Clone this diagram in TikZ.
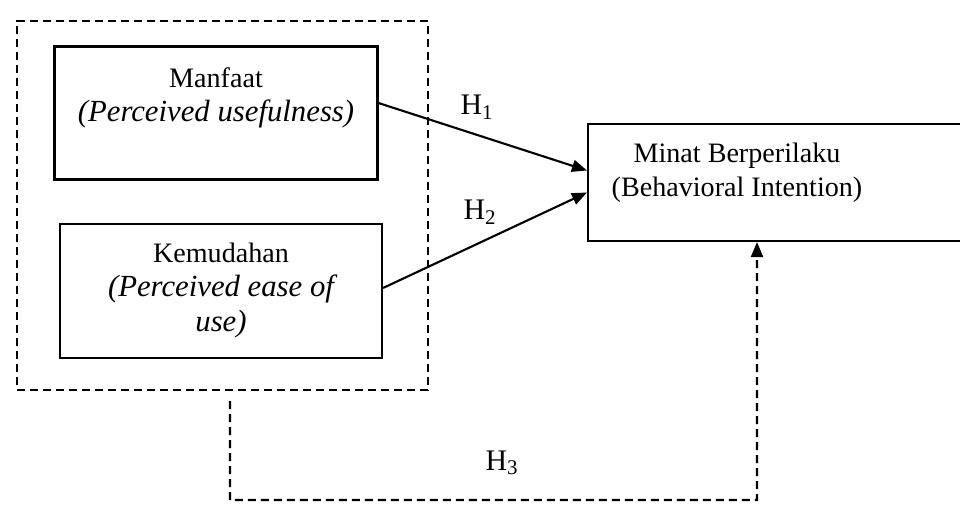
\documentclass[tikz,border=0pt]{standalone}
\usepackage{fontspec}
\setmainfont{Liberation Serif}
\usetikzlibrary{arrows.meta}

\begin{document}
\begin{tikzpicture}[x=0.02cm, y=-0.02cm,
        box/.style={draw, line width=1.2pt, rectangle, inner sep=0pt, font=\fontsize{16}{19.5}\selectfont},
        groupbox/.style={draw, line width=1.2pt, dash pattern=on 0.16cm off 0.1cm, inner sep=0pt},
        hyp/.style={-{Triangle[length=0.3cm, width=0.24cm]}, line width=1.2pt},
        hlabel/.style={font=\fontsize{17}{20}\selectfont}]
        \useasboundingbox (0, 0) rectangle (960, 508);

        \node[groupbox, minimum width=8.22cm, minimum height=7.38cm] (group) at (222.5, 205.5) {};
        \node[box] (manfaat) at (216, 113) {\parbox[c][2.66cm][c]{6.46cm}{\centering\parbox[c][1.82cm][t]{6.4cm}{\centering Manfaat\\ {\fontsize{17.5}{19.5}\selectfont\itshape (Perceived usefulness)}}}};
        \node[box] (kemudahan) at (221, 291) {\parbox[c][2.68cm][c]{6.44cm}{\centering\parbox[c][1.92cm][t]{6.4cm}{\centering Kemudahan\\ {\fontsize{17.5}{19.5}\selectfont\itshape (Perceived ease of\\ use)}}}};
        \node[box] (minat) at (780.5, 182.5) {\parbox[c][2.34cm][c]{5.96cm}{\centering\parbox[c][1.58cm][t]{5.96cm}{\centering Minat Berperilaku\\ (Behavioral Intention)}}\kern1.74cm};

        \draw[hyp] ([yshift=0.2cm]manfaat.east) -- ([yshift=0.24cm]minat.west);
        \draw[hyp] ([yshift=0.06cm]kemudahan.east) -- ([yshift=-0.2cm]minat.west);
        \node[hlabel] (h1) at (477, 107) {H\textsubscript{1}};
        \node[hlabel] (h2) at (480, 212) {H\textsubscript{2}};

        \coordinate (h3turn) at (757, 500);
        \draw[hyp, dash pattern=on 0.16cm off 0.1cm] ([xshift=0.15cm, yshift=-0.2cm]group.south) |- (h3turn) -- ([xshift=-0.47cm]minat.south);
        \node[hlabel] (h3) at (502, 463) {H\textsubscript{3}};

    \end{tikzpicture}
\end{document}
